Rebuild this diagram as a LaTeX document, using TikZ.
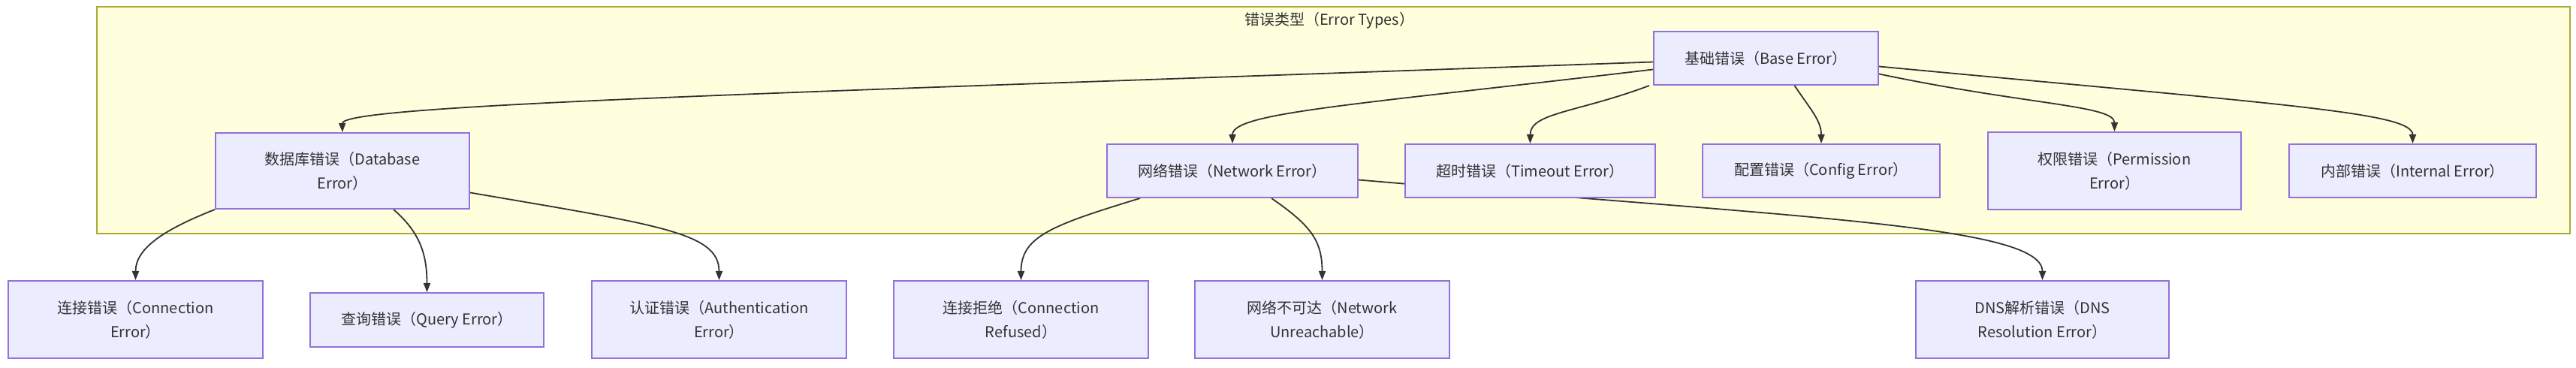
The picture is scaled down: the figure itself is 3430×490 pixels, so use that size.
\documentclass[tikz,border=0pt]{standalone}
\usepackage{fontspec}
\setmainfont{Noto Sans CJK SC}
\usetikzlibrary{arrows.meta,calc}
\definecolor{nodefill}{HTML}{ECECFF}
\definecolor{nodeborder}{HTML}{9370DB}
\definecolor{clusterfill}{HTML}{FFFFDE}
\definecolor{clusterborder}{HTML}{AAAA33}
\definecolor{edgecol}{HTML}{333333}
\definecolor{textcol}{HTML}{333333}
\pgfdeclarelayer{bg}
\pgfdeclarelayer{edges}
\pgfsetlayers{bg,edges,main}
\begin{document}
\begin{tikzpicture}[x=0.5pt,y=-0.5pt,
 box/.style={draw=nodeborder, fill=nodefill, line width=1pt, text=textcol,
   font=\fontsize{10}{16}\selectfont, align=center, inner sep=0pt, minimum height=35.5pt},
 tallbox/.style={box, minimum height=51.5pt},
 edge/.style={draw=edgecol, line width=0.9pt, -{Triangle[length=6pt,width=4.5pt]}},
 cluster/.style={draw=clusterborder, fill=clusterfill, line width=1pt},
 title/.style={text=textcol, font=\fontsize{10}{16}\selectfont, inner sep=0pt}
 ]
\useasboundingbox (0,0) rectangle (3430,490);
\begin{pgfonlayer}{bg}
\fill[white] (0,0) rectangle (3430,490);
\draw[cluster] (129,9) rectangle (3422,311);
\end{pgfonlayer}
\node[title] (ttl) at (1770,27) {错误类型（Error Types）};

\node[box, minimum width=149.5pt] (base) at (2351.5,77.5) {基础错误（Base Error）};
\node[tallbox, minimum width=169pt, minimum height=50.5pt] (db) at (456,227.5) {数据库错误（Database\\Error）};
\node[box, minimum width=167pt] (net) at (1641,227.5) {网络错误（Network Error）};
\node[box, minimum width=166.5pt] (timeout) at (2037.5,227.5) {超时错误（Timeout Error）};
\node[box, minimum width=158pt] (config) at (2425,227.5) {配置错误（Config Error）};
\node[tallbox, minimum width=168.5pt] (perm) at (2815.5,227.5) {权限错误（Permission\\Error）};
\node[box, minimum width=164.5pt] (internal) at (3212.5,227.5) {内部错误（Internal Error）};

\node[tallbox, minimum width=169.5pt] (conn) at (180.5,425.5) {连接错误（Connection\\Error）};
\node[box, minimum width=155.5pt, minimum height=36pt] (query) at (568.5,426) {查询错误（Query Error）};
\node[tallbox, minimum width=169.5pt] (auth) at (957.5,425.5) {认证错误（Authentication\\Error）};
\node[tallbox, minimum width=169.5pt] (connref) at (1359.5,425.5) {连接拒绝（Connection\\Refused）};
\node[tallbox, minimum width=169.5pt] (unreach) at (1760.5,425.5) {网络不可达（Network\\Unreachable）};
\node[tallbox, minimum width=168.5pt] (dns) at (2719.5,425.5) {DNS解析错误（DNS\\Resolution Error）};

\begin{pgfonlayer}{edges}
\draw[edge] ($(base.west)+(0,5)$) .. controls (1000,125) and (455,140) .. (db.north);
\draw[edge] ($(base.west)+(0,15)$) .. controls (1800,140) and (1641,150) .. (net.north);
\draw[edge] ($(base.south west)+(-5,0)$) .. controls (2100,150) and (2037.5,150) .. (timeout.north);
\draw[edge] ($(base.south)+(38,0)$) .. controls (2410,145) and (2425,160) .. (config.north);
\draw[edge] ($(base.east)+(0,21)$) .. controls (2700,140) and (2815.5,140) .. (perm.north);
\draw[edge] ($(base.east)+(0,11)$) .. controls (3050,140) and (3212.5,150) .. (internal.north);

\draw[edge] (db.south west) .. controls (220,305) and (180.5,330) .. (conn.north);
\draw[edge] ($(db.south)+(68,0)$) .. controls (560,310) and (568.5,340) .. (query.north);
\draw[edge] ($(db.east)+(0,29)$) .. controls (880,300) and (957.5,310) .. (auth.north);

\draw[edge] ($(net.south west)+(45,0)$) .. controls (1400,300) and (1359.5,315) .. (connref.north);
\draw[edge] ($(net.south)+(52,0)$) .. controls (1745,300) and (1760.5,320) .. (unreach.north);
\draw[edge] ($(net.east)+(0,12)$) .. controls (2400,290) and (2719.5,300) .. (dns.north);
\end{pgfonlayer}
\end{tikzpicture}
\end{document}
